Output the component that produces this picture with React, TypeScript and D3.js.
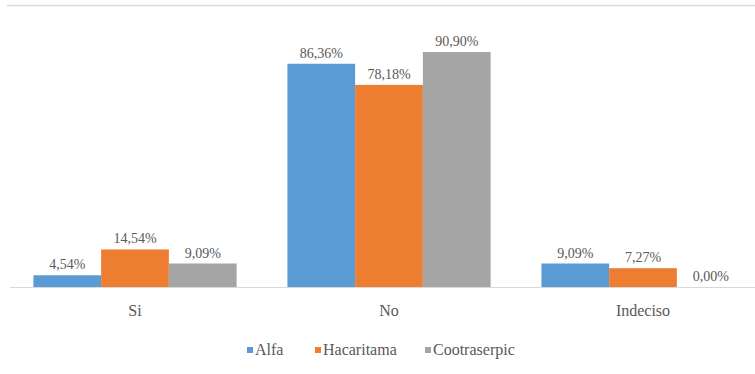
import React from 'react';
import * as d3 from 'd3';

const categories = ['Si', 'No', 'Indeciso'];
const seriesNames = ['Alfa', 'Hacaritama', 'Cootraserpic'];
const alfa = [4.54, 86.36, 9.09];
const hacaritama = [14.54, 78.18, 7.27];
const cootraserpic = [9.09, 90.90, 0.0];
const colors = ['#5b9bd5', '#ed7d31', '#a5a5a5'];

const W = 755;
const H = 374;
const baseY = 287;

const App: React.FC = () => {
  const series = [alfa, hacaritama, cootraserpic];

  const x0 = d3.scaleBand<string>()
    .domain(categories)
    .range([8, 770])
    .paddingInner(0.2)
    .paddingOuter(0.1);

  const x1 = d3.scaleBand<string>()
    .domain(seriesNames)
    .range([0, x0.bandwidth()]);

  const y = d3.scaleLinear()
    .domain([0, 100])
    .range([baseY, baseY - 258.5]);

  const fmt = (v: number) => v.toFixed(2).replace('.', ',') + '%';
  const font = "'Times New Roman', Times, Tinos, 'Liberation Serif', 'Noto Serif', serif";

  const legendX = [247, 315, 425];

  return (
    <svg width={W} height={H} style={{ position: 'absolute', left: 0, top: 0, background: '#fff' }}>
      <line x1={7} x2={W} y1={5.5} y2={5.5} stroke="#d9d9d9" strokeWidth={1.5} />
      {categories.map((c, ci) => (
        <g key={c} transform={`translate(${x0(c)},0)`}>
          {seriesNames.map((s, si) => {
            const v = series[si][ci];
            const bx = x1(s) as number;
            return (
              <g key={s}>
                <rect x={bx} y={y(v)} width={x1.bandwidth()} height={baseY - y(v)} fill={colors[si]} />
                <text
                  x={bx + x1.bandwidth() / 2}
                  y={y(v) - 6}
                  textAnchor="middle"
                  style={{ fontFamily: font, fontSize: 14 }}
                  fill="#595959"
                >
                  {fmt(v)}
                </text>
              </g>
            );
          })}
          <text
            x={x0.bandwidth() / 2}
            y={316}
            textAnchor="middle"
            style={{ fontFamily: font, fontSize: 16 }}
            fill="#595959"
          >
            {c}
          </text>
        </g>
      ))}
      <line x1={10} x2={W} y1={baseY + 0.5} y2={baseY + 0.5} stroke="#d9d9d9" strokeWidth={1} />
      {seriesNames.map((s, si) => (
        <g key={s} transform={`translate(${legendX[si]},355)`}>
          <rect x={0} y={-8} width={6} height={6} fill={colors[si]} />
          <text x={8} y={0} style={{ fontFamily: font, fontSize: 16 }} fill="#595959">{s}</text>
        </g>
      ))}
    </svg>
  );
};

export default App;
